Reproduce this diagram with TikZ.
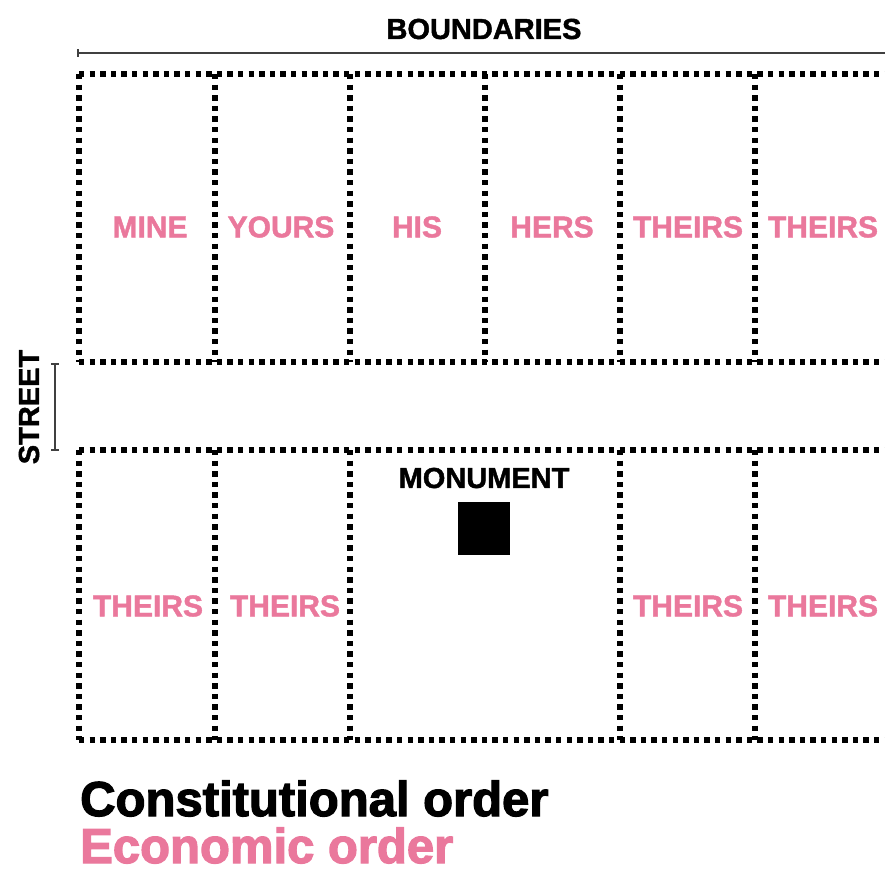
\documentclass[tikz,border=0pt]{standalone}
\usepackage{fontspec}
\setmainfont{Liberation Sans}
\newfontfamily\heavyfont{Liberation Sans Bold}[FakeBold=1.5]
\newfontfamily\blackfont{Liberation Sans Bold}[FakeBold=2.5]
\definecolor{econpink}{RGB}{234,120,156}
\tikzset{
  lotline/.style={line width=5.4pt, dash pattern=on 5.4pt off 5.2pt},
  owner/.style={text=econpink, font=\heavyfont\fontsize{30}{30}\selectfont, inner sep=0pt},
  caption/.style={font=\heavyfont\fontsize{29}{29}\selectfont, inner sep=0pt},
  order/.style={font=\blackfont\fontsize{49}{49}\selectfont, inner sep=0pt, anchor=base west}
}
\begin{document}
\begin{tikzpicture}[x=1pt,y=-1pt]
  \useasboundingbox (0,0) rectangle (885,868);
  % boundaries measure
  \node[caption] (bound) at (484,29) {BOUNDARIES};
  \draw[line width=1.5pt, black!75] (78,53) -- (885,53);
  \draw[line width=1.2pt, black!75] (78,49) -- (78,57);
  % street measure
  \node[caption, rotate=90] (street) at (29,407) {STREET};
  \draw[line width=1.2pt, black!75] (55,364) -- (55,450);
  \draw[line width=1.2pt, black!75] (51,364) -- (59,364);
  \draw[line width=1.2pt, black!75] (51,450) -- (59,450);
  % lots
  \foreach \y in {74,362,450,740} { \draw[lotline] (79,\y) -- (885,\y); }
  \foreach \x in {79,215,350,485,620,755} { \draw[lotline] (\x,74) -- (\x,362); }
  \foreach \x in {79,215,350,620,755} { \draw[lotline] (\x,450) -- (\x,740); }
  % owners
  \node[owner] (mine) at (150,227) {MINE};
  \node[owner] (yours) at (281,227) {YOURS};
  \node[owner] (his) at (417,227) {HIS};
  \node[owner] (hers) at (552,227) {HERS};
  \node[owner] (theirsA) at (688,227) {THEIRS};
  \node[owner] (theirsB) at (823,227) {THEIRS};
  \node[owner] (theirsC) at (148,606) {THEIRS};
  \node[owner] (theirsD) at (285,606) {THEIRS};
  \node[owner] (theirsE) at (688,606) {THEIRS};
  \node[owner] (theirsF) at (823,606) {THEIRS};
  % monument
  \node[caption] (monument) at (484,478) {MONUMENT};
  \fill (458,502) rectangle (510,555);
  % legend
  \node[order] (constitution) at (80,816) {Constitutional order};
  \node[order, text=econpink] (economy) at (80,863) {Economic order};
\end{tikzpicture}
\end{document}
